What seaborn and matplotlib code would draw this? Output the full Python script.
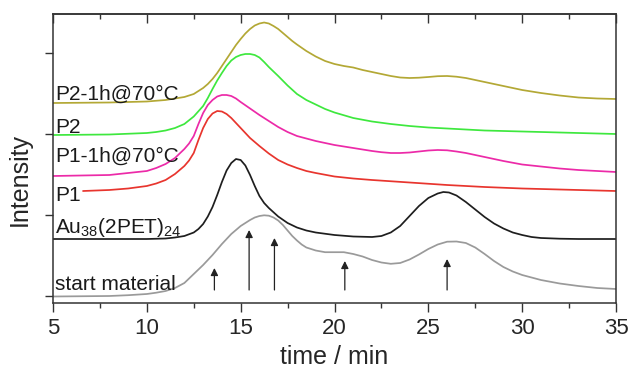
import numpy as np
import pandas as pd
import matplotlib
matplotlib.use("Agg")
import matplotlib.pyplot as plt
import seaborn as sns
from matplotlib.ticker import MultipleLocator

sns.set_style("ticks")
plt.rcParams['font.family'] = ['Liberation Sans', 'DejaVu Sans']
plt.rcParams['mathtext.fontset'] = 'custom'
plt.rcParams['mathtext.rm'] = 'Liberation Sans'
plt.rcParams['mathtext.it'] = 'Liberation Sans:italic'

# ---------------- data (time in min, intensity in arbitrary units, offset traces) ----
t_p2h = [5, 8, 10, 11, 11.5, 12, 12.5, 13, 13.25, 13.5, 13.75, 14, 14.25, 14.5, 14.75, 15,
         15.25, 15.5, 15.75, 16, 16.25, 16.5, 16.75, 17, 17.25, 17.5, 17.75, 18, 18.5, 19,
         19.5, 20, 20.5, 21, 21.5, 22, 22.5, 23, 23.5, 24, 24.5, 25, 25.5, 26, 26.5, 27,
         27.5, 28, 28.5, 29, 29.5, 30, 30.5, 31, 32, 33, 34, 35]
i_p2h = [193, 193.5, 194.5, 196, 197.5, 199, 202, 208, 212, 217, 223, 230, 237, 244, 251,
         257, 262.5, 267, 270.5, 272.5, 273.5, 272.5, 270, 267, 263, 259, 255, 251.5, 245,
         239.5, 235, 232, 230, 228.5, 226, 224, 222, 220, 218.5, 218, 218.3, 219, 219.8,
         220, 219.3, 218, 216, 214, 212, 210, 208, 206, 204.5, 203, 200.5, 198.5, 197.5, 197]

t_p2 = [5, 8, 10, 10.5, 11, 11.5, 12, 12.5, 13, 13.25, 13.5, 13.75, 14, 14.25, 14.5, 14.75,
        15, 15.25, 15.5, 15.75, 16, 16.25, 16.5, 16.75, 17, 17.5, 18, 18.5, 19, 19.5, 20,
        21, 22, 23, 24, 25, 26, 28, 30, 32, 35]
i_p2 = [161, 161.5, 163, 164, 165.5, 168, 172, 179.5, 190, 198, 207, 215.5, 223, 230, 235.5,
        239, 241, 242, 242, 241, 238.5, 234, 229, 224.5, 220, 210.5, 202, 196, 191.5, 187,
        183.5, 178, 174.5, 172, 170, 168.5, 167.5, 165.5, 164.5, 163.5, 162]

t_p1h = [5, 8, 10, 10.5, 11, 11.5, 12, 12.25, 12.5, 12.75, 13, 13.25, 13.5, 13.75, 14, 14.25,
         14.5, 14.75, 15, 15.5, 16, 16.5, 17, 17.5, 18, 18.5, 19, 20, 21, 22, 22.5, 23, 23.5,
         24, 24.5, 25, 25.5, 26, 26.5, 27, 27.5, 28, 29, 30, 31, 32, 33, 34, 35]
i_p1h = [120, 121, 125, 128, 132, 138, 147, 152.5, 160, 172, 183, 191, 196, 199.5, 201, 201,
         200, 197.5, 194, 187.5, 181, 175, 169, 164, 160, 157.5, 155, 151, 148, 145, 143.8,
         143, 143, 143.5, 144.5, 145.5, 146, 145.7, 144.5, 143, 141, 139, 135, 131.5, 129.5,
         127.5, 126, 125, 124]

t_p1 = [6.6, 8, 9, 10, 10.5, 11, 11.5, 12, 12.25, 12.5, 12.75, 13, 13.25, 13.5, 13.75, 14,
        14.25, 14.5, 14.75, 15, 15.5, 16, 16.5, 17, 17.5, 18, 18.5, 19, 20, 21, 22, 24, 26,
        28, 30, 32, 35]
i_p1 = [105, 106, 107.5, 110, 112.5, 116, 122, 130, 135.5, 143, 156, 168, 177, 182.5, 185,
        184.5, 182, 178, 173, 168, 158, 150, 142.5, 136, 131.5, 128, 125, 123, 119.5, 117.5,
        116, 113.5, 111, 109, 107.5, 106.5, 105]

t_au = [5, 10, 11, 11.5, 12, 12.5, 12.75, 13, 13.25, 13.5, 13.75, 14, 14.25, 14.5, 14.75, 15,
        15.25, 15.5, 15.75, 16, 16.25, 16.5, 17, 17.5, 18, 18.5, 19, 20, 21, 22, 22.5, 23,
        23.5, 24, 24.5, 25, 25.5, 25.8, 26.1, 26.5, 27, 27.5, 28, 28.5, 29, 29.5, 30, 30.5,
        31, 32, 33, 35]
i_au = [57, 57, 57.5, 58.5, 60, 63.5, 67, 72, 79.5, 89, 101, 114, 125.5, 133, 137, 136,
        130.5, 121, 110, 100, 93, 88, 79.5, 73, 68.5, 65.5, 63.5, 61, 59.5, 59, 60, 63.5, 70,
        80, 90, 98, 102.5, 104, 103.5, 100.5, 94, 86.5, 79, 72.5, 67.5, 63.5, 61, 59, 58,
        57.3, 57, 57]

t_sm = [5, 8, 9, 10, 10.5, 11, 11.5, 12, 12.5, 13, 13.5, 14, 14.5, 15, 15.5, 15.75, 16,
        16.25, 16.5, 16.75, 17, 17.25, 17.5, 17.75, 18, 18.25, 18.5, 19, 19.5, 20, 20.5, 21,
        21.5, 22, 22.5, 23, 23.5, 24, 24.5, 25, 25.5, 26, 26.5, 27, 27.5, 28, 28.5, 29,
        29.5, 30, 31, 32, 33, 34, 35]
i_sm = [-0.5, 0, 0.8, 2, 3.3, 5, 8, 13, 22, 31, 41, 52, 62, 70, 76, 78.5, 80, 80.7, 80.3,
        78.5, 75.5, 71, 65.5, 60, 55.5, 51.5, 48.5, 45.5, 43.8, 43.8, 43.8, 42, 39.5, 36,
        33.5, 32.2, 33, 36.5, 41.5, 47, 51.5, 54.3, 54.5, 53, 48.5, 42, 35, 29, 24.5, 21,
        16, 12.5, 10, 8, 7]

sample_names = ["P2-1h@70°C", "P2", "P1-1h@70°C", "P1", "Au38(2PET)24", "start material"]
sample_labels = ["P2-1h@70°C", "P2", "P1-1h@70°C", "P1",
                 r"Au$_{38}$(2PET)$_{24}$", "start material"]
label_y = [196, 163, 134, 95, 63, 6]          # baseline of each curve label (intensity units)
label_x = 5.1

arrow_t = [13.6, 15.45, 16.8, 20.55, 26.0]
arrow_tip = [28, 66, 58, 35, 37]
arrow_base = 6

y_ticks = [0, 81, 162, 243]

colors = {"P2-1h@70°C": "#b3a835", "P2": "#3ee83e", "P1-1h@70°C": "#ec2aa8",
          "P1": "#e8352e", "Au38(2PET)24": "#1e1e1e", "start material": "#9a9a9a"}

# ---------------- build long table --------------------------------------------------
series = [(t_p2h, i_p2h), (t_p2, i_p2), (t_p1h, i_p1h), (t_p1, i_p1), (t_au, i_au), (t_sm, i_sm)]
frames = []
for name, (t, y) in zip(sample_names, series):
    frames.append(pd.DataFrame({"time": t, "intensity": y, "sample": name}))
df = pd.concat(frames, ignore_index=True)

# ---------------- figure -------------------------------------------------------------
fig = plt.figure(figsize=(6.3, 3.79), dpi=100)
L, R, T, B = 53, 616, 14, 303
ax = fig.add_axes([L / 630, 1 - B / 379, (R - L) / 630, (B - T) / 379])

sns.lineplot(data=df, x="time", y="intensity", hue="sample", palette=colors,
             hue_order=sample_names, estimator=None, sort=False, legend=False,
             linewidth=1.25, ax=ax)
for ln in ax.get_lines():
    ln.set_solid_joinstyle("round")

for lab, yy in zip(sample_labels, label_y):
    ax.text(label_x, yy, lab, fontsize=15, ha="left", va="baseline", color="#1a1a1a")

for t, tip in zip(arrow_t, arrow_tip):
    ax.annotate("", xy=(t, tip), xytext=(t, arrow_base),
                arrowprops=dict(arrowstyle="-|>", color="#222222", lw=0.9,
                                mutation_scale=11, shrinkA=0, shrinkB=0))

ax.set_xlim(5, 35)
ax.set_ylim(-7, 282)
ax.xaxis.set_major_locator(MultipleLocator(5))
ax.xaxis.set_minor_locator(MultipleLocator(2.5))
ax.set_yticks(y_ticks)
ax.set_yticklabels([])
ax.tick_params(axis="x", which="major", direction="out", length=6.5, width=1,
               labelsize=16, pad=4, top=False, color="#333333")
ax.tick_params(axis="x", which="minor", direction="out", length=3.6, width=1,
               top=False, color="#333333")
ax.tick_params(axis="y", which="both", direction="out", length=6, width=1,
               right=False, color="#333333")

sec = ax.secondary_xaxis("top")
sec.xaxis.set_major_locator(MultipleLocator(5))
sec.xaxis.set_minor_locator(MultipleLocator(2.5))
sec.tick_params(axis="x", which="major", direction="in", length=6.5, width=1,
                labeltop=False, color="#333333")
sec.tick_params(axis="x", which="minor", direction="in", length=3.6, width=1,
                color="#333333")

for s in ax.spines.values():
    s.set_linewidth(1.1)
    s.set_color("#333333")
sec.spines["top"].set_linewidth(1.1)
sec.spines["top"].set_color("#333333")

ax.set_xlabel("time / min", fontsize=18)
ax.set_ylabel("Intensity", fontsize=18)
ax.xaxis.set_label_coords(0.5, (B - 357) / (B - T))
ax.xaxis.label.set_va("center")
ax.yaxis.set_label_coords((20 - L) / (R - L), (B - 180) / (B - T))
ax.yaxis.label.set_va("center")

fig.savefig("out.png", dpi=100)
